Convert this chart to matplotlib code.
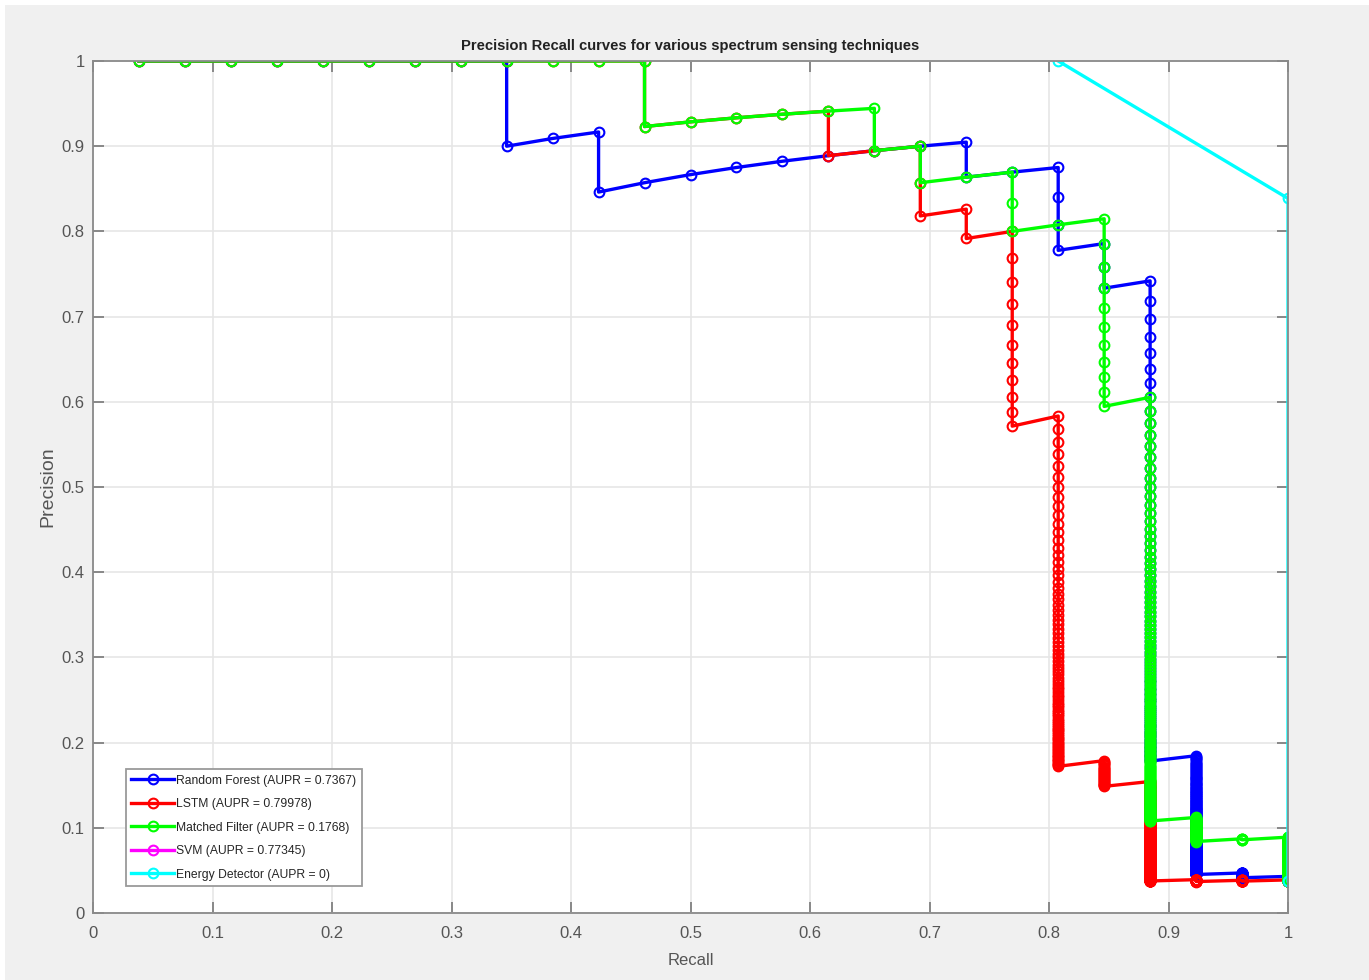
import numpy as np
import matplotlib
matplotlib.use("Agg")
import matplotlib.pyplot as plt
from matplotlib.patches import Rectangle

plt.rcParams['font.family'] = ['Liberation Sans', 'DejaVu Sans']

n_pos = 26  # positives in the test set

# ranked test labels as run lengths (highest score first):
# positives, negatives, positives, negatives, ...
rf_runs = [9, 1, 2, 1, 8, 1, 2, 3, 1, 2, 1, 98, 1, 401, 1, 72, 1, 85]
lstm_runs = [12, 1, 4, 1, 2, 2, 1, 1, 1, 10, 1, 86, 1, 25, 1, 463, 1, 37, 1, 17, 1, 21]
mf_runs = [12, 1, 5, 1, 1, 1, 2, 2, 2, 10, 1, 175, 1, 72, 1, 4, 1, 398]

# svm curve is not visible in the figure, only in the legend
svm_recall = []
svm_precision = []

ed_recall = [0.8077, 1.0, 1.0]
ed_precision = [1.0, 0.8387, 0.0377]

labels = ["Random Forest (AUPR = 0.7367)", "LSTM (AUPR = 0.79978)",
          "Matched Filter (AUPR = 0.1768)", "SVM (AUPR = 0.77345)",
          "Energy Detector (AUPR = 0)"]
colors = ["#0000ff", "#ff0000", "#00ff00", "#ff00ff", "#00ffff"]

ticks = np.round(np.arange(0, 1.01, 0.1), 1)
tick_labels = ["0", "0.1", "0.2", "0.3", "0.4", "0.5", "0.6", "0.7", "0.8", "0.9", "1"]


def pr_from_runs(runs):
    lab = np.concatenate([np.full(n, 1 - i % 2) for i, n in enumerate(runs)])
    tp = np.cumsum(lab)
    k = np.arange(1, len(lab) + 1)
    return tp / n_pos, tp / k


curves = [pr_from_runs(rf_runs), pr_from_runs(lstm_runs), pr_from_runs(mf_runs),
          (svm_recall, svm_precision), (ed_recall, ed_precision)]

fig = plt.figure(figsize=(13.69, 9.8), dpi=100, facecolor="white")
fig.patches.append(Rectangle((5 / 1369, 0), 1, 1 - 5 / 980, transform=fig.transFigure,
                             facecolor="#f0f0f0", edgecolor="none", zorder=-10))
ax = fig.add_axes([93 / 1369, 1 - 913 / 980, 1195 / 1369, 852 / 980])

for (r, p), c, lab in zip(curves, colors, labels):
    ax.plot(r, p, "-o", color=c, lw=2.4, ms=7, mfc="none", mew=1.5, label=lab)

ax.set_xlim(0, 1)
ax.set_ylim(0, 1)
ax.set_xticks(ticks)
ax.set_xticklabels(tick_labels)
ax.set_yticks(ticks)
ax.set_yticklabels(tick_labels)
ax.grid(True, color="#e6e6e6", lw=1.2)
ax.set_axisbelow(True)
ax.tick_params(direction="in", length=8, width=1.3, colors="#808080",
               labelcolor="#555555", labelsize=12, top=True, right=True)
ax.tick_params(axis="x", pad=9)
ax.tick_params(axis="y", pad=6)
for s in ax.spines.values():
    s.set_color("#8a8a8a")
    s.set_linewidth(1.3)

ax.set_title("Precision Recall curves for various spectrum sensing techniques",
             fontsize=10.6, fontweight="bold", color="#222222", pad=8)
ax.set_xlabel("Recall", fontsize=12, color="#555555", labelpad=9)
ax.set_ylabel("Precision", fontsize=14, color="#555555")
ax.yaxis.set_label_coords(-0.031, 0.5)

leg = ax.legend(loc="lower left", bbox_to_anchor=(0.0276, 0.0317), borderaxespad=0,
                fontsize=8.7, fancybox=False, framealpha=1, handlelength=3.5,
                handletextpad=0.2, labelspacing=0.95, borderpad=0.45)
leg.get_frame().set_edgecolor("#9a9a9a")
leg.get_frame().set_linewidth(1.3)
for t in leg.get_texts():
    t.set_color("#262626")

fig.savefig("out.png", dpi=100, facecolor=fig.get_facecolor())
